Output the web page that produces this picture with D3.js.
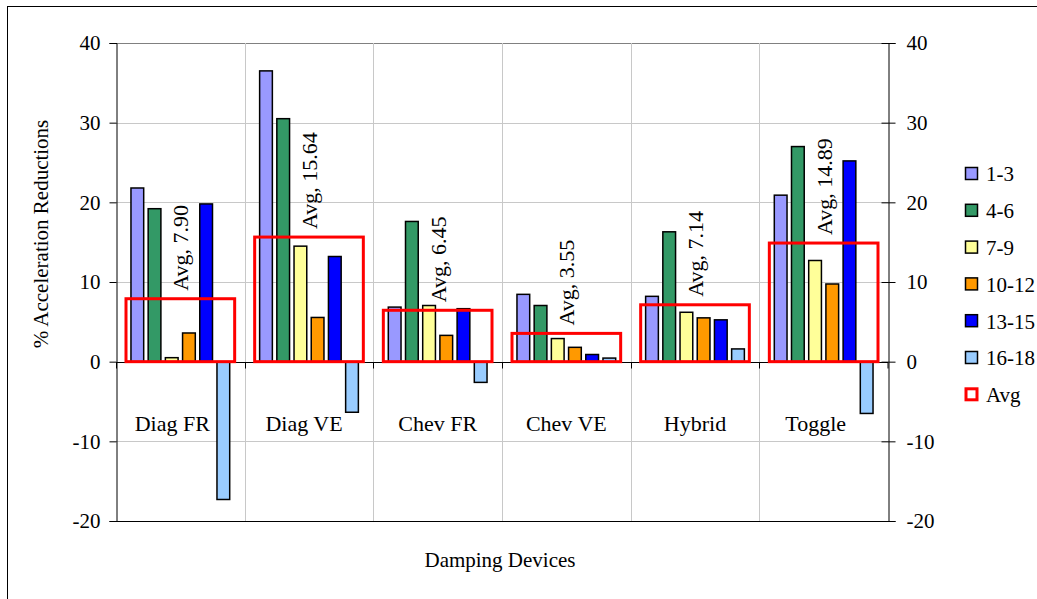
<!DOCTYPE html>
<html><head><meta charset="utf-8">
<script src="https://cdn.jsdelivr.net/npm/d3@7"></script>
<style>
html,body{margin:0;padding:0;background:#fff;}
svg{display:block;}
svg text{font-family:"Liberation Serif","Times New Roman",serif !important;fill:#000;}
</style></head>
<body>
<svg id="c" width="1037" height="599" font-family="Liberation Serif"></svg>
<script>
// ---- data ----
const categories = ["Diag FR","Diag VE","Chev FR","Chev VE","Hybrid","Toggle"];
const seriesNames = ["1-3","4-6","7-9","10-12","13-15","16-18"];
const s1_3   = [21.8, 36.5, 6.85, 8.45, 8.2, 20.9];
const s4_6   = [19.2, 30.5, 17.6, 7.05, 16.3, 27.0];
const s7_9   = [0.5, 14.5, 7.05, 2.9, 6.2, 12.7];
const s10_12 = [3.6, 5.55, 3.3, 1.8, 5.5, 9.75];
const s13_15 = [19.8, 13.2, 6.65, 0.9, 5.25, 25.2];
const s16_18 = [-17.3, -6.35, -2.6, 0.45, 1.6, -6.5];
const avgValues = [7.90, 15.64, 6.45, 3.55, 7.14, 14.89];
const yTicks = [-20,-10,0,10,20,30,40];
const seriesColors = ["#9999FF","#339966","#FFFF99","#FF9900","#0000FF","#99CCFF"];
const avgColor = "#FF0000";
// layout-only tweak for category label placement
const catLabelDx = [-8,-5,0,0,0,-8];

const seriesValues = [s1_3, s4_6, s7_9, s10_12, s13_15, s16_18];
const FONT = "Liberation Serif";

const svg = d3.select("#c");
const L = 116, R = 888, T = 43, B = 521;

const x = d3.scaleBand().domain(categories).range([L, R]).padding(0);
const xi = d3.scaleBand().domain(seriesNames).range([0, x.bandwidth()])
  .paddingInner(0.26).paddingOuter(0.87);
const y = d3.scaleLinear().domain([-20, 40]).range([B, T]);

// outer frame
svg.append("rect").attr("x",7.5).attr("y",6.5).attr("width",1040).attr("height",600)
  .attr("fill","none").attr("stroke","#000").attr("stroke-width",1);

// gridlines
const grid = svg.append("g");
yTicks.filter(t => t !== -20 && t !== 0).forEach(t => {
  grid.append("line").attr("x1",L).attr("x2",R).attr("y1",Math.round(y(t))+0.5).attr("y2",Math.round(y(t))+0.5)
    .attr("stroke", t===40 ? "#808080" : "#c8c8c8").attr("stroke-width",1);
});
categories.forEach((c,i) => {
  if (i === 0) return;
  const xx = Math.round(x(c)) + 0.5;
  grid.append("line").attr("x1",xx).attr("x2",xx).attr("y1",T).attr("y2",B)
    .attr("stroke","#c8c8c8").attr("stroke-width",1);
});

// bars
const bars = svg.append("g");
categories.forEach((c,ci) => {
  seriesNames.forEach((s,si) => {
    const v = seriesValues[si][ci];
    bars.append("rect")
      .attr("x", x(c) + xi(s))
      .attr("width", xi.bandwidth())
      .attr("y", y(Math.max(0,v)))
      .attr("height", Math.abs(y(v) - y(0)))
      .attr("fill", seriesColors[si])
      .attr("stroke","#000").attr("stroke-width",1.5);
  });
});

// x axis line at 0 with ticks
const y0 = Math.round(y(0)) + 0.5;
svg.append("line").attr("x1",L).attr("x2",R).attr("y1",y0).attr("y2",y0).attr("stroke","#000").attr("stroke-width",1);
categories.forEach((c,i) => {
  const xx = Math.round(x(c)) + 0.5;
  svg.append("line").attr("x1",xx).attr("x2",xx).attr("y1",y0).attr("y2",y0+6).attr("stroke","#000");
});
svg.append("line").attr("x1",R).attr("x2",R).attr("y1",y0).attr("y2",y0+6).attr("stroke","#000");

// avg rectangles & labels
const avgG = svg.append("g");
categories.forEach((c,ci) => {
  const v = avgValues[ci];
  avgG.append("rect")
    .attr("x", x(c) + 10).attr("width", x.bandwidth() - 20)
    .attr("y", y(v)).attr("height", y(0) - y(v))
    .attr("fill","none").attr("stroke",avgColor).attr("stroke-width",3);
  const cx = x(c) + x.bandwidth()/2 + 8;
  avgG.append("text")
    .attr("transform", `translate(${cx},${y(v) - 8}) rotate(-90)`)
    .attr("text-anchor","start")
    .attr("font-family",FONT)
    .style("font-size","22px")
    .text("Avg, " + v.toFixed(2));
});

// bottom line
svg.append("line").attr("x1",L).attr("x2",R).attr("y1",B+0.5).attr("y2",B+0.5).attr("stroke","#000");

// left axis
const fmt = d => String(d);
const leftAxis = d3.axisLeft(y).tickValues(yTicks).tickSize(7).tickPadding(9).tickFormat(fmt);
const gL = svg.append("g").attr("transform",`translate(${L+0.5},0)`).call(leftAxis)
  .attr("font-family",FONT).attr("font-size",21);
gL.select(".domain").attr("stroke","#000");
gL.selectAll(".tick line").attr("stroke","#000");
gL.selectAll("text").attr("fill","#000");

// right axis (cross ticks)
const rightAxis = d3.axisRight(y).tickValues(yTicks).tickSize(7).tickPadding(11).tickFormat(fmt);
const gR = svg.append("g").attr("transform",`translate(${R+0.5},0)`).call(rightAxis)
  .attr("font-family",FONT).attr("font-size",21);
gR.select(".domain").attr("stroke","#000");
gR.selectAll(".tick line").attr("stroke","#000").attr("x1",-7);
gR.selectAll("text").attr("fill","#000");

// category labels
categories.forEach((c,i) => {
  svg.append("text").attr("x", x(c) + x.bandwidth()/2 + catLabelDx[i]).attr("y", 431)
    .attr("text-anchor","middle").attr("font-family",FONT).style("font-size","22px").text(c);
});

// axis titles
svg.append("text").attr("x",500).attr("y",567).attr("text-anchor","middle")
  .attr("font-family",FONT).style("font-size","21px").text("Damping Devices");
svg.append("text").attr("transform","translate(48,234) rotate(-90)").attr("text-anchor","middle")
  .attr("font-family",FONT).style("font-size","21px").text("% Acceleration Reductions");

// legend
const lg = svg.append("g");
const legendItems = seriesNames.concat(["Avg"]);
legendItems.forEach((name,i) => {
  const cy = 174 + i*36.8;
  if (i < seriesNames.length) {
    lg.append("rect").attr("x",965.5).attr("y",cy-6.5).attr("width",12).attr("height",12)
      .attr("fill",seriesColors[i]).attr("stroke","#000").attr("stroke-width",1.5);
  } else {
    lg.append("rect").attr("x",966).attr("y",cy-6).attr("width",11).attr("height",11)
      .attr("fill","#fff").attr("stroke",avgColor).attr("stroke-width",3);
  }
  lg.append("text").attr("x",986).attr("y",cy).attr("dy","0.35em")
    .attr("font-family",FONT).style("font-size","21px").text(name);
});
</script>
</body></html>
